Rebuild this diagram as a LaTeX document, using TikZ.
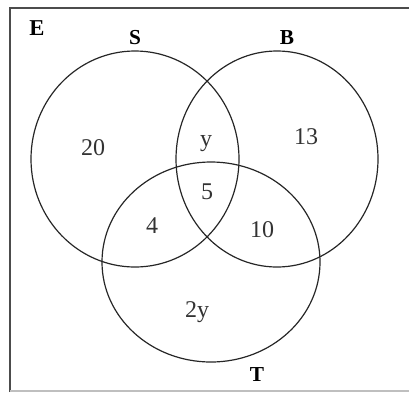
\documentclass[tikz,border=0pt]{standalone}
\usepackage{fontspec}
\setmainfont{Liberation Serif}
\usepackage{xcolor}
\usepackage{tikz}
\usetikzlibrary{positioning}

\begin{document}
\begin{tikzpicture}[x=0.75pt,y=-0.75pt,
  setline/.style={draw=black!85,line width=0.9pt},
  setname/.style={font=\fontsize{16}{16}\selectfont\bfseries},
  count/.style={font=\fontsize{18}{18}\selectfont,text=black!80}]
\useasboundingbox (0,0) rectangle (409,393);
% Universal set frame
\draw[black!70,line width=1.5pt] (10,392) -- (10,8) -- (409,8);
\draw[black!25,line width=1pt] (10,391) -- (409,391);
\node[setname,font=\fontsize{17}{17}\selectfont\bfseries] (E) at (37,28) {E};
% Sets S, B and T
\draw[setline] (135,159) ellipse [x radius=78pt, y radius=81pt];
\draw[setline] (277,159) ellipse [x radius=75.75pt, y radius=81pt];
\draw[setline] (211,262) ellipse [x radius=81.75pt, y radius=75pt];
\node[setname] (S) at (135,38) {S};
\node[setname] (B) at (287,38) {B};
\node[setname] (T) at (257,375) {T};
% Region counts
\node[count] (sonly) at (93,148) {20};
\node[count] (sb) at (206,144) {y};
\node[count] (bonly) at (306,137) {13};
\node[count] (sbt) at (207,192) {5};
\node[count] (st) at (152,226) {4};
\node[count] (bt) at (262,230) {10};
\node[count] (tonly) at (197,312) {2y};
\end{tikzpicture}
\end{document}
